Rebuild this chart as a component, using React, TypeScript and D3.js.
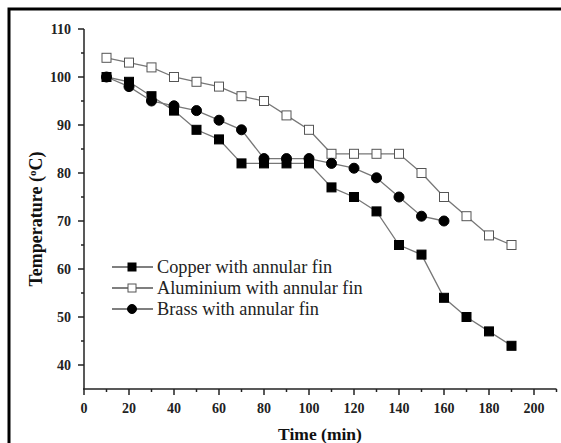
import React from "react";
import * as d3 from "d3";

const times = [10, 20, 30, 40, 50, 60, 70, 80, 90, 100, 110, 120, 130, 140, 150, 160, 170, 180, 190];
const copper = [100, 99, 96, 93, 89, 87, 82, 82, 82, 82, 77, 75, 72, 65, 63, 54, 50, 47, 44];
const aluminium = [104, 103, 102, 100, 99, 98, 96, 95, 92, 89, 84, 84, 84, 84, 80, 75, 71, 67, 65];
const brassTimes = [10, 20, 30, 40, 50, 60, 70, 80, 90, 100, 110, 120, 130, 140, 150, 160];
const brass = [100, 98, 95, 94, 93, 91, 89, 83, 83, 83, 82, 81, 79, 75, 71, 70];
const xTicks = [0, 20, 40, 60, 80, 100, 120, 140, 160, 180, 200];
const xMinor = [10, 30, 50, 70, 90, 110, 130, 150, 170, 190, 210];
const yTicks = [40, 50, 60, 70, 80, 90, 100, 110];
const yMinor = [45, 55, 65, 75, 85, 95, 105];
const legendLabels = ["Copper with annular fin", "Aluminium with annular fin", "Brass with annular fin"];

const W = 561;
const H = 443;
const FONT = "Liberation Serif, Times New Roman, serif";

export default function App() {
  const x = d3.scaleLinear().domain([0, 210]).range([84, 556.5]);
  const y = d3.scaleLinear().domain([35, 110]).range([389, 29]);
  const line = d3
    .line<[number, number]>()
    .x((d) => x(d[0]))
    .y((d) => y(d[1]));

  const series = [
    { name: legendLabels[0], pts: times.map((t, i) => [t, copper[i]] as [number, number]), type: "square", fill: "#000" },
    { name: legendLabels[1], pts: times.map((t, i) => [t, aluminium[i]] as [number, number]), type: "square", fill: "#fff" },
    { name: legendLabels[2], pts: brassTimes.map((t, i) => [t, brass[i]] as [number, number]), type: "circle", fill: "#000" },
  ];

  const marker = (type: string, fill: string, cx: number, cy: number, key: any, s = 9) =>
    type === "square" ? (
      <rect key={key} x={cx - s / 2} y={cy - s / 2} width={s} height={s} fill={fill} stroke={fill === "#fff" ? "#555" : "#000"} strokeWidth={1} />
    ) : (
      <circle key={key} cx={cx} cy={cy} r={s / 2 + 0.5} fill={fill} stroke="#000" strokeWidth={1} />
    );

  return (
    <svg width={W} height={H} style={{ position: "absolute", left: 0, top: 0, background: "#fff" }}>
      <rect x={0} y={0} width={W} height={H} fill="#fff" />
      {/* frame */}
      <rect x={9} y={9} width={W + 10} height={H + 10} fill="none" stroke="#000" strokeWidth={3} />

      {/* axes */}
      <line x1={x(0) - 1} x2={x(210)} y1={y(35)} y2={y(35)} stroke="#222" strokeWidth={1.5} />
      <line x1={x(0)} x2={x(0)} y1={y(35)} y2={y(110)} stroke="#222" strokeWidth={1.5} />
      {xTicks.map((t) => (
        <g key={"xt" + t}>
          <line x1={x(t)} x2={x(t)} y1={y(35)} y2={y(35) + 6} stroke="#222" strokeWidth={1.5} />
          <text x={x(t)} y={y(35) + 24} textAnchor="middle" fontSize={14} fontWeight="bold" fill="#222" style={{ fontFamily: FONT }}>
            {t}
          </text>
        </g>
      ))}
      {xMinor.map((t) => (
        <line key={"xm" + t} x1={x(t)} x2={x(t)} y1={y(35)} y2={y(35) + 3} stroke="#222" strokeWidth={1.5} />
      ))}
      {yTicks.map((t) => (
        <g key={"yt" + t}>
          <line x1={x(0) - 6} x2={x(0)} y1={y(t)} y2={y(t)} stroke="#222" strokeWidth={1.5} />
          <text x={x(0) - 13} y={y(t) + 5} textAnchor="end" fontSize={14} fontWeight="bold" fill="#222" style={{ fontFamily: FONT }}>
            {t}
          </text>
        </g>
      ))}
      {yMinor.map((t) => (
        <line key={"ym" + t} x1={x(0) - 3} x2={x(0)} y1={y(t)} y2={y(t)} stroke="#222" strokeWidth={1.5} />
      ))}

      {/* titles */}
      <text x={320} y={440} textAnchor="middle" fontSize={17.5} fontWeight="bold" fill="#111" style={{ fontFamily: FONT }}>
        Time (min)
      </text>
      <text transform="translate(42,219) rotate(-90)" textAnchor="middle" fontSize={18} fontWeight="bold" fill="#111" style={{ fontFamily: FONT }}>
        Temperature (
        <tspan dy={-6} fontSize={11}>o</tspan>
        <tspan dy={6}>C)</tspan>
      </text>

      {/* series */}
      {series.map((s, si) => (
        <g key={"s" + si}>
          <path d={line(s.pts) || ""} fill="none" stroke="#777" strokeWidth={1.3} />
          {s.pts.map((p, i) => marker(s.type, s.fill, x(p[0]), y(p[1]), i))}
        </g>
      ))}

      {/* legend */}
      {series.map((s, i) => {
        const ly = 267 + i * 21;
        return (
          <g key={"lg" + i}>
            <line x1={112} x2={153} y1={ly} y2={ly} stroke="#555" strokeWidth={1.3} />
            {marker(s.type, s.fill, 132, ly, "m", 8)}
            <text x={157} y={ly + 6} fontSize={18.3} fill="#222" style={{ fontFamily: FONT }}>
              {s.name}
            </text>
          </g>
        );
      })}
    </svg>
  );
}
